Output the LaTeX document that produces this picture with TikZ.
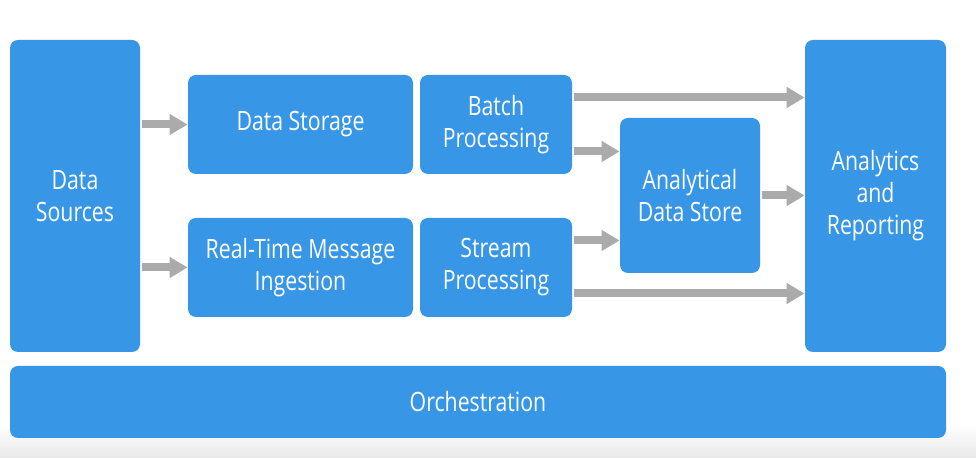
\documentclass[tikz,border=0pt]{standalone}
\usepackage{fontspec}
\setmainfont[FakeStretch=0.8]{Open Sans}
\usetikzlibrary{arrows.meta}
\definecolor{boxblue}{HTML}{3796E6}
\definecolor{flowgray}{HTML}{ABABAB}
\begin{document}
\begin{tikzpicture}
  [x=0.5pt,y=-0.5pt,every node/.style={fill=boxblue,rounded corners=4pt,text=white,align=center,inner sep=0pt,font=\fontsize{13.3}{16}\selectfont}]
  \tikzstyle{flow} = [draw=flowgray,line width=4pt,-{Triangle[length=9pt,width=10pt]}]
  \fill[white] (0,0) rectangle (976,458);
  \shade[top color=white,bottom color=black!9] (0,425) rectangle (976,458);
  \node[minimum width=65pt,minimum height=156pt] (n1) at (75,196) {Data\\Sources};
  \node[minimum width=112.5pt,minimum height=49.5pt] (n2) at (300.5,124.5) {Data Storage};
  \node[minimum width=112.5pt,minimum height=49.5pt] (n3) at (300.5,267.5) {Real-Time Message\\Ingestion};
  \node[minimum width=76pt,minimum height=49.5pt] (n4) at (496,124.5) {Batch\\Processing};
  \node[minimum width=76pt,minimum height=49.5pt] (n5) at (496,267.5) {Stream\\Processing};
  \node[minimum width=70pt,minimum height=77.5pt] (n6) at (690,195.5) {Analytical\\Data Store};
  \node[minimum width=70.5pt,minimum height=156pt] (n7) at (875.5,196) {Analytics\\and\\Reporting};
  \node[minimum width=468pt,minimum height=36pt] (n8) at (478,402) {Orchestration};

\foreach \source /\dest in {n1/n2,n1/n3}
   \draw[flow] ([xshift=1pt]\source.east |- \dest.center) coordinate (s) -- (s -| \dest.west);
\foreach \source /\dest /\shift in {n4/n7/13.5pt,n4/n6/-13.5pt,n5/n6/13.5pt,n5/n7/-13pt,n6/n7/0pt}
   \draw[flow] ([xshift=1pt,yshift=\shift]\source.east) coordinate (s) -- (s -| \dest.west);
\end{tikzpicture}
\end{document}
